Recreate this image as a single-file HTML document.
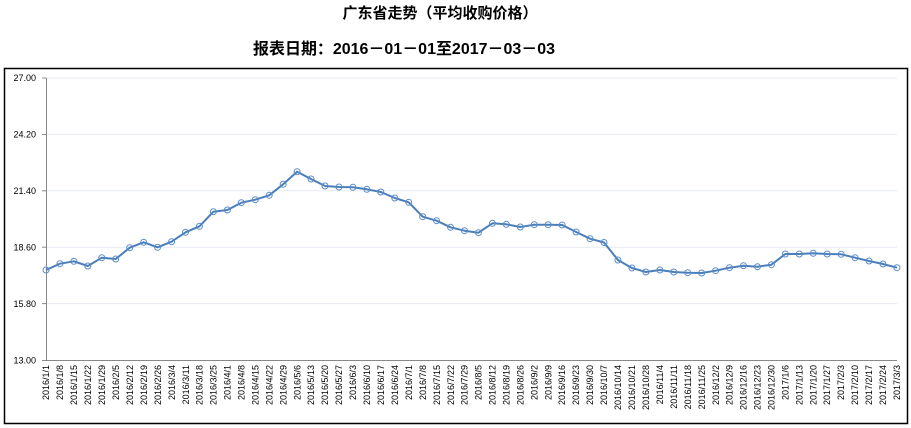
<!DOCTYPE html>
<html><head><meta charset="utf-8"><style>
body{margin:0;background:#fff;width:911px;height:428px;overflow:hidden;}
</style></head><body>
<svg width="911" height="428" xmlns="http://www.w3.org/2000/svg" style="display:block">
<text x="440" y="18" text-anchor="middle" font-family="Liberation Sans, Noto Sans CJK SC, sans-serif" font-size="15" font-weight="bold" fill="#000">广东省走势（平均收购价格）</text>
<text x="404" y="54" text-anchor="middle" font-family="Liberation Sans, Noto Sans CJK SC, sans-serif" font-size="16" font-weight="bold" fill="#000" textLength="302" lengthAdjust="spacingAndGlyphs">报表日期：2016－01－01至2017－03－03</text>
<rect x="4.5" y="68.5" width="903" height="355" fill="none" stroke="#000" stroke-width="1.5"/>
<g stroke="#e6eaf2" stroke-width="1">
<line x1="46" y1="78" x2="897" y2="78"/><line x1="46" y1="134.4" x2="897" y2="134.4"/><line x1="46" y1="190.8" x2="897" y2="190.8"/><line x1="46" y1="247.2" x2="897" y2="247.2"/><line x1="46" y1="303.6" x2="897" y2="303.6"/>
</g>
<g stroke="#888" stroke-width="1">
<line x1="46.5" y1="78" x2="46.5" y2="360"/><line x1="46" y1="360.5" x2="897" y2="360.5"/>
<line x1="42" y1="78" x2="46" y2="78"/><line x1="42" y1="134.4" x2="46" y2="134.4"/><line x1="42" y1="190.8" x2="46" y2="190.8"/><line x1="42" y1="247.2" x2="46" y2="247.2"/><line x1="42" y1="303.6" x2="46" y2="303.6"/><line x1="42" y1="360.5" x2="46" y2="360.5"/>
</g>
<g font-family="Liberation Sans, sans-serif" font-size="9" fill="#000" text-anchor="end">
<text x="36" y="81">27.00</text><text x="36" y="137.5">24.20</text><text x="36" y="194">21.40</text><text x="36" y="250.5">18.60</text><text x="36" y="307">15.80</text><text x="36" y="363.5">13.00</text>
</g>
<polyline fill="none" stroke="#4a7ebb" stroke-width="2" stroke-linejoin="round" points="46,270 59.95,263.7 73.9,261.3 87.85,266 101.8,257.7 115.75,259 129.7,247.7 143.65,242.3 157.6,247.3 171.55,241.7 185.5,232.3 199.45,226.3 213.4,211.7 227.35,210 241.3,202.7 255.25,199.7 269.2,195.3 283.15,184.3 297.1,171.7 311.05,179 325,186 338.95,187 352.9,187.3 366.85,189.3 380.8,192 394.75,198 408.7,202.3 422.65,216.7 436.6,220.7 450.55,227.3 464.5,230.7 478.45,232.7 492.4,223.3 506.35,224.3 520.3,227 534.25,224.7 548.2,224.7 562.15,225 576.1,232 590.05,238.7 604,242.5 617.95,260 631.9,268 645.85,272 659.8,270 673.75,272 687.7,272.7 701.65,273 715.6,270.7 729.55,267.7 743.5,265.7 757.45,266.7 771.4,264.7 785.35,254 799.3,254 813.25,253.3 827.2,254 841.15,254.3 855.1,257.7 869.05,261 883,264 896.95,267.7"/>
<g fill="none" stroke="#5b8cc8" stroke-width="1">
<circle cx="46" cy="270" r="3"/><circle cx="59.95" cy="263.7" r="3"/><circle cx="73.9" cy="261.3" r="3"/><circle cx="87.85" cy="266" r="3"/><circle cx="101.8" cy="257.7" r="3"/><circle cx="115.75" cy="259" r="3"/><circle cx="129.7" cy="247.7" r="3"/><circle cx="143.65" cy="242.3" r="3"/><circle cx="157.6" cy="247.3" r="3"/><circle cx="171.55" cy="241.7" r="3"/><circle cx="185.5" cy="232.3" r="3"/><circle cx="199.45" cy="226.3" r="3"/><circle cx="213.4" cy="211.7" r="3"/><circle cx="227.35" cy="210" r="3"/><circle cx="241.3" cy="202.7" r="3"/><circle cx="255.25" cy="199.7" r="3"/><circle cx="269.2" cy="195.3" r="3"/><circle cx="283.15" cy="184.3" r="3"/><circle cx="297.1" cy="171.7" r="3"/><circle cx="311.05" cy="179" r="3"/><circle cx="325" cy="186" r="3"/><circle cx="338.95" cy="187" r="3"/><circle cx="352.9" cy="187.3" r="3"/><circle cx="366.85" cy="189.3" r="3"/><circle cx="380.8" cy="192" r="3"/><circle cx="394.75" cy="198" r="3"/><circle cx="408.7" cy="202.3" r="3"/><circle cx="422.65" cy="216.7" r="3"/><circle cx="436.6" cy="220.7" r="3"/><circle cx="450.55" cy="227.3" r="3"/><circle cx="464.5" cy="230.7" r="3"/><circle cx="478.45" cy="232.7" r="3"/><circle cx="492.4" cy="223.3" r="3"/><circle cx="506.35" cy="224.3" r="3"/><circle cx="520.3" cy="227" r="3"/><circle cx="534.25" cy="224.7" r="3"/><circle cx="548.2" cy="224.7" r="3"/><circle cx="562.15" cy="225" r="3"/><circle cx="576.1" cy="232" r="3"/><circle cx="590.05" cy="238.7" r="3"/><circle cx="604" cy="242.5" r="3"/><circle cx="617.95" cy="260" r="3"/><circle cx="631.9" cy="268" r="3"/><circle cx="645.85" cy="272" r="3"/><circle cx="659.8" cy="270" r="3"/><circle cx="673.75" cy="272" r="3"/><circle cx="687.7" cy="272.7" r="3"/><circle cx="701.65" cy="273" r="3"/><circle cx="715.6" cy="270.7" r="3"/><circle cx="729.55" cy="267.7" r="3"/><circle cx="743.5" cy="265.7" r="3"/><circle cx="757.45" cy="266.7" r="3"/><circle cx="771.4" cy="264.7" r="3"/><circle cx="785.35" cy="254" r="3"/><circle cx="799.3" cy="254" r="3"/><circle cx="813.25" cy="253.3" r="3"/><circle cx="827.2" cy="254" r="3"/><circle cx="841.15" cy="254.3" r="3"/><circle cx="855.1" cy="257.7" r="3"/><circle cx="869.05" cy="261" r="3"/><circle cx="883" cy="264" r="3"/><circle cx="896.95" cy="267.7" r="3"/>
</g>
<g font-family="Liberation Sans, sans-serif" font-size="9" fill="#000" text-anchor="end">
<text transform="translate(49,365) rotate(-90)">2016/1/1</text>
<text transform="translate(63,365) rotate(-90)">2016/1/8</text>
<text transform="translate(77,365) rotate(-90)">2016/1/15</text>
<text transform="translate(91,365) rotate(-90)">2016/1/22</text>
<text transform="translate(105,365) rotate(-90)">2016/1/29</text>
<text transform="translate(119,365) rotate(-90)">2016/2/5</text>
<text transform="translate(133,365) rotate(-90)">2016/2/12</text>
<text transform="translate(147,365) rotate(-90)">2016/2/19</text>
<text transform="translate(161,365) rotate(-90)">2016/2/26</text>
<text transform="translate(175,365) rotate(-90)">2016/3/4</text>
<text transform="translate(189,365) rotate(-90)">2016/3/11</text>
<text transform="translate(202.5,365) rotate(-90)">2016/3/18</text>
<text transform="translate(216.5,365) rotate(-90)">2016/3/25</text>
<text transform="translate(230.5,365) rotate(-90)">2016/4/1</text>
<text transform="translate(244.5,365) rotate(-90)">2016/4/8</text>
<text transform="translate(258.5,365) rotate(-90)">2016/4/15</text>
<text transform="translate(272.5,365) rotate(-90)">2016/4/22</text>
<text transform="translate(286.5,365) rotate(-90)">2016/4/29</text>
<text transform="translate(300.5,365) rotate(-90)">2016/5/6</text>
<text transform="translate(314,365) rotate(-90)">2016/5/13</text>
<text transform="translate(328,365) rotate(-90)">2016/5/20</text>
<text transform="translate(342,365) rotate(-90)">2016/5/27</text>
<text transform="translate(356,365) rotate(-90)">2016/6/3</text>
<text transform="translate(370,365) rotate(-90)">2016/6/10</text>
<text transform="translate(384,365) rotate(-90)">2016/6/17</text>
<text transform="translate(398,365) rotate(-90)">2016/6/24</text>
<text transform="translate(412,365) rotate(-90)">2016/7/1</text>
<text transform="translate(426,365) rotate(-90)">2016/7/8</text>
<text transform="translate(440,365) rotate(-90)">2016/7/15</text>
<text transform="translate(454,365) rotate(-90)">2016/7/22</text>
<text transform="translate(467.5,365) rotate(-90)">2016/7/29</text>
<text transform="translate(481.5,365) rotate(-90)">2016/8/5</text>
<text transform="translate(495.5,365) rotate(-90)">2016/8/12</text>
<text transform="translate(509.5,365) rotate(-90)">2016/8/19</text>
<text transform="translate(523.5,365) rotate(-90)">2016/8/26</text>
<text transform="translate(537.5,365) rotate(-90)">2016/9/2</text>
<text transform="translate(551.5,365) rotate(-90)">2016/9/9</text>
<text transform="translate(565,365) rotate(-90)">2016/9/16</text>
<text transform="translate(579,365) rotate(-90)">2016/9/23</text>
<text transform="translate(593,365) rotate(-90)">2016/9/30</text>
<text transform="translate(607,365) rotate(-90)">2016/10/7</text>
<text transform="translate(621,365) rotate(-90)">2016/10/14</text>
<text transform="translate(635,365) rotate(-90)">2016/10/21</text>
<text transform="translate(649,365) rotate(-90)">2016/10/28</text>
<text transform="translate(663,365) rotate(-90)">2016/11/4</text>
<text transform="translate(677,365) rotate(-90)">2016/11/11</text>
<text transform="translate(691,365) rotate(-90)">2016/11/18</text>
<text transform="translate(705,365) rotate(-90)">2016/11/25</text>
<text transform="translate(719,365) rotate(-90)">2016/12/2</text>
<text transform="translate(732.5,365) rotate(-90)">2016/12/9</text>
<text transform="translate(746.5,365) rotate(-90)">2016/12/16</text>
<text transform="translate(760.5,365) rotate(-90)">2016/12/23</text>
<text transform="translate(774.5,365) rotate(-90)">2016/12/30</text>
<text transform="translate(788.5,365) rotate(-90)">2017/1/6</text>
<text transform="translate(802.5,365) rotate(-90)">2017/1/13</text>
<text transform="translate(816.5,365) rotate(-90)">2017/1/20</text>
<text transform="translate(830,365) rotate(-90)">2017/1/27</text>
<text transform="translate(844,365) rotate(-90)">2017/2/3</text>
<text transform="translate(858,365) rotate(-90)">2017/2/10</text>
<text transform="translate(872,365) rotate(-90)">2017/2/17</text>
<text transform="translate(886,365) rotate(-90)">2017/2/24</text>
<text transform="translate(900,365) rotate(-90)">2017/3/3</text>
</g>
</svg>
</body></html>
